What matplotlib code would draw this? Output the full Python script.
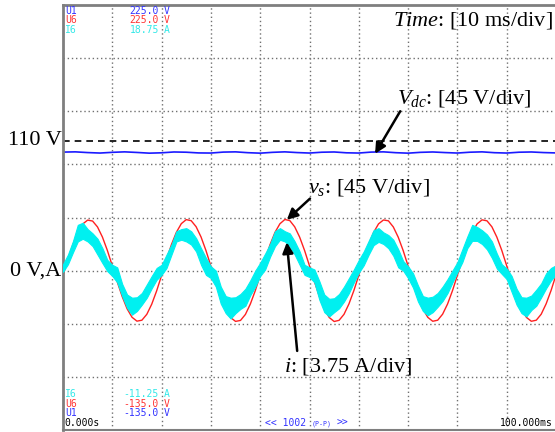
import numpy as np
import matplotlib
matplotlib.use("Agg")
from matplotlib import pyplot as plt


#  -------------------------------------------  data  ------------------------------------------  #

# sample times [ms], 1 ms apart over the 10 divisions
t_ms = np.arange(0, 101)

# v_s, supply voltage [V]
v_s = [-4.0, 9.4, 21.9, 32.3, 39.5, 42.8, 42.0, 37.0, 28.4, 17.1,
       4.0, -9.4, -21.9, -32.3, -39.5, -42.8, -42.0, -37.0, -28.4, -17.1,
       -4.0, 9.6, 22.1, 32.5, 39.8, 43.2, 42.3, 37.2, 28.5, 17.0,
       3.8, -9.6, -22.0, -32.5, -39.8, -43.0, -42.2, -37.1, -28.3, -17.0,
       -3.9, 9.5, 22.0, 32.4, 39.7, 43.3, 42.4, 37.1, 28.4, 17.1,
       4.0, -9.3, -21.8, -32.4, -39.7, -43.1, -42.1, -37.0, -28.2, -16.9,
       -3.8, 9.5, 22.0, 32.3, 39.6, 42.9, 42.2, 37.0, 28.3, 17.0,
       3.9, -9.5, -22.0, -32.4, -39.6, -42.9, -42.0, -36.9, -28.3, -17.0,
       -3.9, 9.4, 21.9, 32.4, 39.6, 43.0, 42.2, 37.1, 28.4, 17.2,
       4.1, -9.4, -21.9, -32.3, -39.6, -42.9, -42.0, -36.9, -28.1, -16.8,
       -3.7]

# i, line current [A]: upper / lower edge of the noisy trace
i_hi = [0.45, 1.13, 2.06, 3.23, 3.38, 2.93, 2.63, 2.25, 1.58, 0.75,
        0.41, 0.23, -0.94, -1.69, -1.91, -1.88, -1.58, -0.98, -0.38, 0.19,
        0.41, 1.13, 1.84, 2.78, 2.93, 3.00, 2.78, 2.29, 1.58, 0.90,
        0.30, 0.00, -1.13, -1.80, -1.91, -1.88, -1.65, -1.28, -0.68, 0.00,
        0.56, 1.20, 1.88, 2.78, 3.00, 2.78, 2.63, 2.06, 1.35, 0.41,
        0.23, 0.08, -0.75, -1.69, -1.99, -1.95, -1.65, -1.13, -0.53, 0.08,
        0.75, 1.35, 2.10, 2.85, 3.00, 2.70, 2.51, 2.18, 1.50, 0.68,
        0.30, -0.19, -1.05, -1.80, -1.91, -1.84, -1.58, -1.13, -0.60, 0.00,
        0.60, 1.50, 2.40, 3.23, 3.08, 2.85, 2.55, 2.06, 1.20, 0.45,
        0.15, -0.38, -1.28, -1.88, -1.91, -1.76, -1.35, -0.90, -0.19, 0.19,
        0.38]
i_lo = [-0.08, 0.45, 1.28, 2.06, 2.25, 2.06, 1.73, 1.13, 0.53, -0.04,
        -0.38, -0.83, -1.80, -2.63, -3.11, -2.85, -2.40, -1.91, -1.24, -0.64,
        -0.30, 0.19, 1.13, 2.06, 2.18, 2.06, 1.84, 1.35, 0.41, -0.30,
        -0.53, -1.13, -2.33, -3.00, -3.38, -3.00, -2.70, -2.48, -1.73, -1.13,
        -0.38, 0.08, 0.98, 1.73, 2.18, 2.06, 1.73, 1.13, 0.41, -0.30,
        -0.45, -0.83, -2.06, -2.93, -3.23, -2.93, -2.66, -2.18, -1.58, -0.83,
        -0.15, 0.38, 1.13, 1.80, 2.03, 1.88, 1.58, 1.05, 0.23, 0.00,
        -0.53, -1.20, -2.18, -2.85, -3.15, -2.93, -2.55, -2.14, -1.58, -0.83,
        -0.11, 0.60, 1.58, 2.10, 2.10, 1.88, 1.50, 0.90, 0.15, -0.23,
        -0.60, -1.50, -2.40, -3.00, -3.23, -2.78, -2.48, -1.88, -1.24, -0.68,
        -0.30]

# V_dc, dc-link voltage [V], every 2.5 ms
t_dc = np.arange(0, 101, 2.5)
v_dc = [100.4, 100.6, 100.0, 99.6, 100.2, 100.6, 100.1, 99.5, 99.8, 100.5,
        100.3, 99.7, 99.6, 100.4, 100.6, 99.9, 99.5, 100.2, 100.6, 100.0,
        99.6, 100.3, 100.5, 99.8, 99.6, 100.4, 100.6, 99.9, 99.5, 100.2,
        100.5, 100.0, 99.6, 100.3, 100.6, 99.9, 99.6, 100.3, 100.5, 100.0,
        99.7]

v_ref = 110.0

# scope read-outs
top_rows = [("U1", "225.0", "V"), ("U6", "225.0", "V"), ("I6", "18.75", "A")]
bot_rows = [("I6", "-11.25", "A"), ("U6", "-135.0", "V"), ("U1", "-135.0", "V")]


#  -------------------------------------------  plot  ------------------------------------------  #

plt.rcParams.update({"font.family": "Liberation Serif", "mathtext.fontset": "custom",
                     "mathtext.rm": "Liberation Serif", "mathtext.it": "Liberation Serif:italic",
                     "font.size": 16})

W, H = 555, 432
fig = plt.figure(figsize=(W/100, H/100), dpi=100)
ax = fig.add_axes([63/W, 2/H, 493/W, 425/H])

blue = "#1a1aff"
red = "#ff2020"
cyan = "#00f0f0"

ax.set_xlim(0, 100)
ax.set_ylim(-135, 225)
ax.set_xticks(np.arange(10, 100, 10))
ax.set_yticks(np.arange(-90, 225, 45))
ax.tick_params(length=0, labelbottom=False, labelleft=False)
ax.grid(True, ls=(0, (1, 2)), lw=1.0, color="#707070")

for s in ("left", "top", "bottom"):
    ax.spines[s].set_color("#7f7f7f")
ax.spines["left"].set_linewidth(2)
ax.spines["top"].set_linewidth(2)
ax.spines["bottom"].set_linewidth(1.5)
ax.spines["right"].set_visible(False)

ax.axhline(v_ref, ls=(0, (4, 3)), lw=1.2, color="black")
ax.plot(t_dc, v_dc, "-", lw=1.2, c=blue)
ax.plot(t_ms, v_s, "-", lw=1.0, c=red)

# current on its own scale: 3.75 A/div against 45 V/div
ax2 = ax.twinx()
ax2.set_ylim(-11.25, 18.75)
ax2.axis("off")
ax2.fill_between(t_ms, i_lo, i_hi, color=cyan, lw=0.8)

ax.text(-0.003, v_ref, "110 V", transform=ax.get_yaxis_transform(), ha="right", va="center")
ax.text(-0.003, 0, "0 V,A", transform=ax.get_yaxis_transform(), ha="right", va="center")

# labels and arrows, drawn above the current trace
arr = dict(arrowstyle="-|>", color="black", lw=1.8, mutation_scale=16, shrinkA=0, shrinkB=0)
ax2.text(99.3, 212, r"$Time$: [10 ms/div]", transform=ax.transData, ha="right", va="center")
ax2.annotate(r"$V_{dc}$: [45 V/div]", xy=(63.3, 99), xycoords=ax.transData,
             xytext=(67.8, 146), textcoords=ax.transData, ha="left", va="center")
ax2.annotate("", xy=(63.3, 99), xycoords=ax.transData,
             xytext=(68.4, 135), textcoords=ax.transData, arrowprops=arr)
ax2.annotate(r"$v_s$: [45 V/div]", xy=(45.4, 43), xycoords=ax.transData,
             xytext=(49.6, 70), textcoords=ax.transData, ha="left", va="center")
ax2.annotate("", xy=(45.4, 43), xycoords=ax.transData,
             xytext=(50.1, 61), textcoords=ax.transData, arrowprops=arr)
ax2.annotate(r"$i$: [3.75 A/div]", xy=(45.4, 24), xycoords=ax.transData,
             xytext=(44.8, -81), textcoords=ax.transData, ha="left", va="center")
ax2.annotate("", xy=(45.4, 24), xycoords=ax.transData,
             xytext=(47.5, -68), textcoords=ax.transData, arrowprops=arr)


#  ---------------------------------------  scope text  ----------------------------------------  #

mono = dict(family="DejaVu Sans Mono", fontsize=7.0, va="center")
cols = {"U1": "#3333ff", "U6": "#ff3333", "I6": "#33e8e8"}

def px(x, y):
    return x/W, 1 - y/H

for k, (name, val, unit) in enumerate(top_rows):
    y = 10.5 + 9.8*k
    fig.text(*px(65, y), name, color=cols[name], ha="left", **mono)
    fig.text(*px(159, y), val, color=cols[name], ha="right", **mono)
    fig.text(*px(164, y), unit, color=cols[name], ha="left", **mono)

for k, (name, val, unit) in enumerate(bot_rows):
    y = 394 + 9.7*k
    fig.text(*px(65, y), name, color=cols[name], ha="left", **mono)
    fig.text(*px(159, y), val, color=cols[name], ha="right", **mono)
    fig.text(*px(164, y), unit, color=cols[name], ha="left", **mono)

fig.text(*px(64, 423), "0.000s", color="black", ha="left", **mono)
fig.text(*px(553, 423), "100.000ms", color="black", ha="right", **mono)
fig.text(*px(306, 423), "<< 1002", color="#3333ff", ha="right", **mono)
fig.text(*px(322, 423.5), "(P-P)", color="#3333ff", ha="center", family="DejaVu Sans Mono",
         fontsize=4.8, va="center")
fig.text(*px(337, 423), ">>", color="#3333ff", ha="left", **mono)

fig.savefig("out.png", dpi=100)
